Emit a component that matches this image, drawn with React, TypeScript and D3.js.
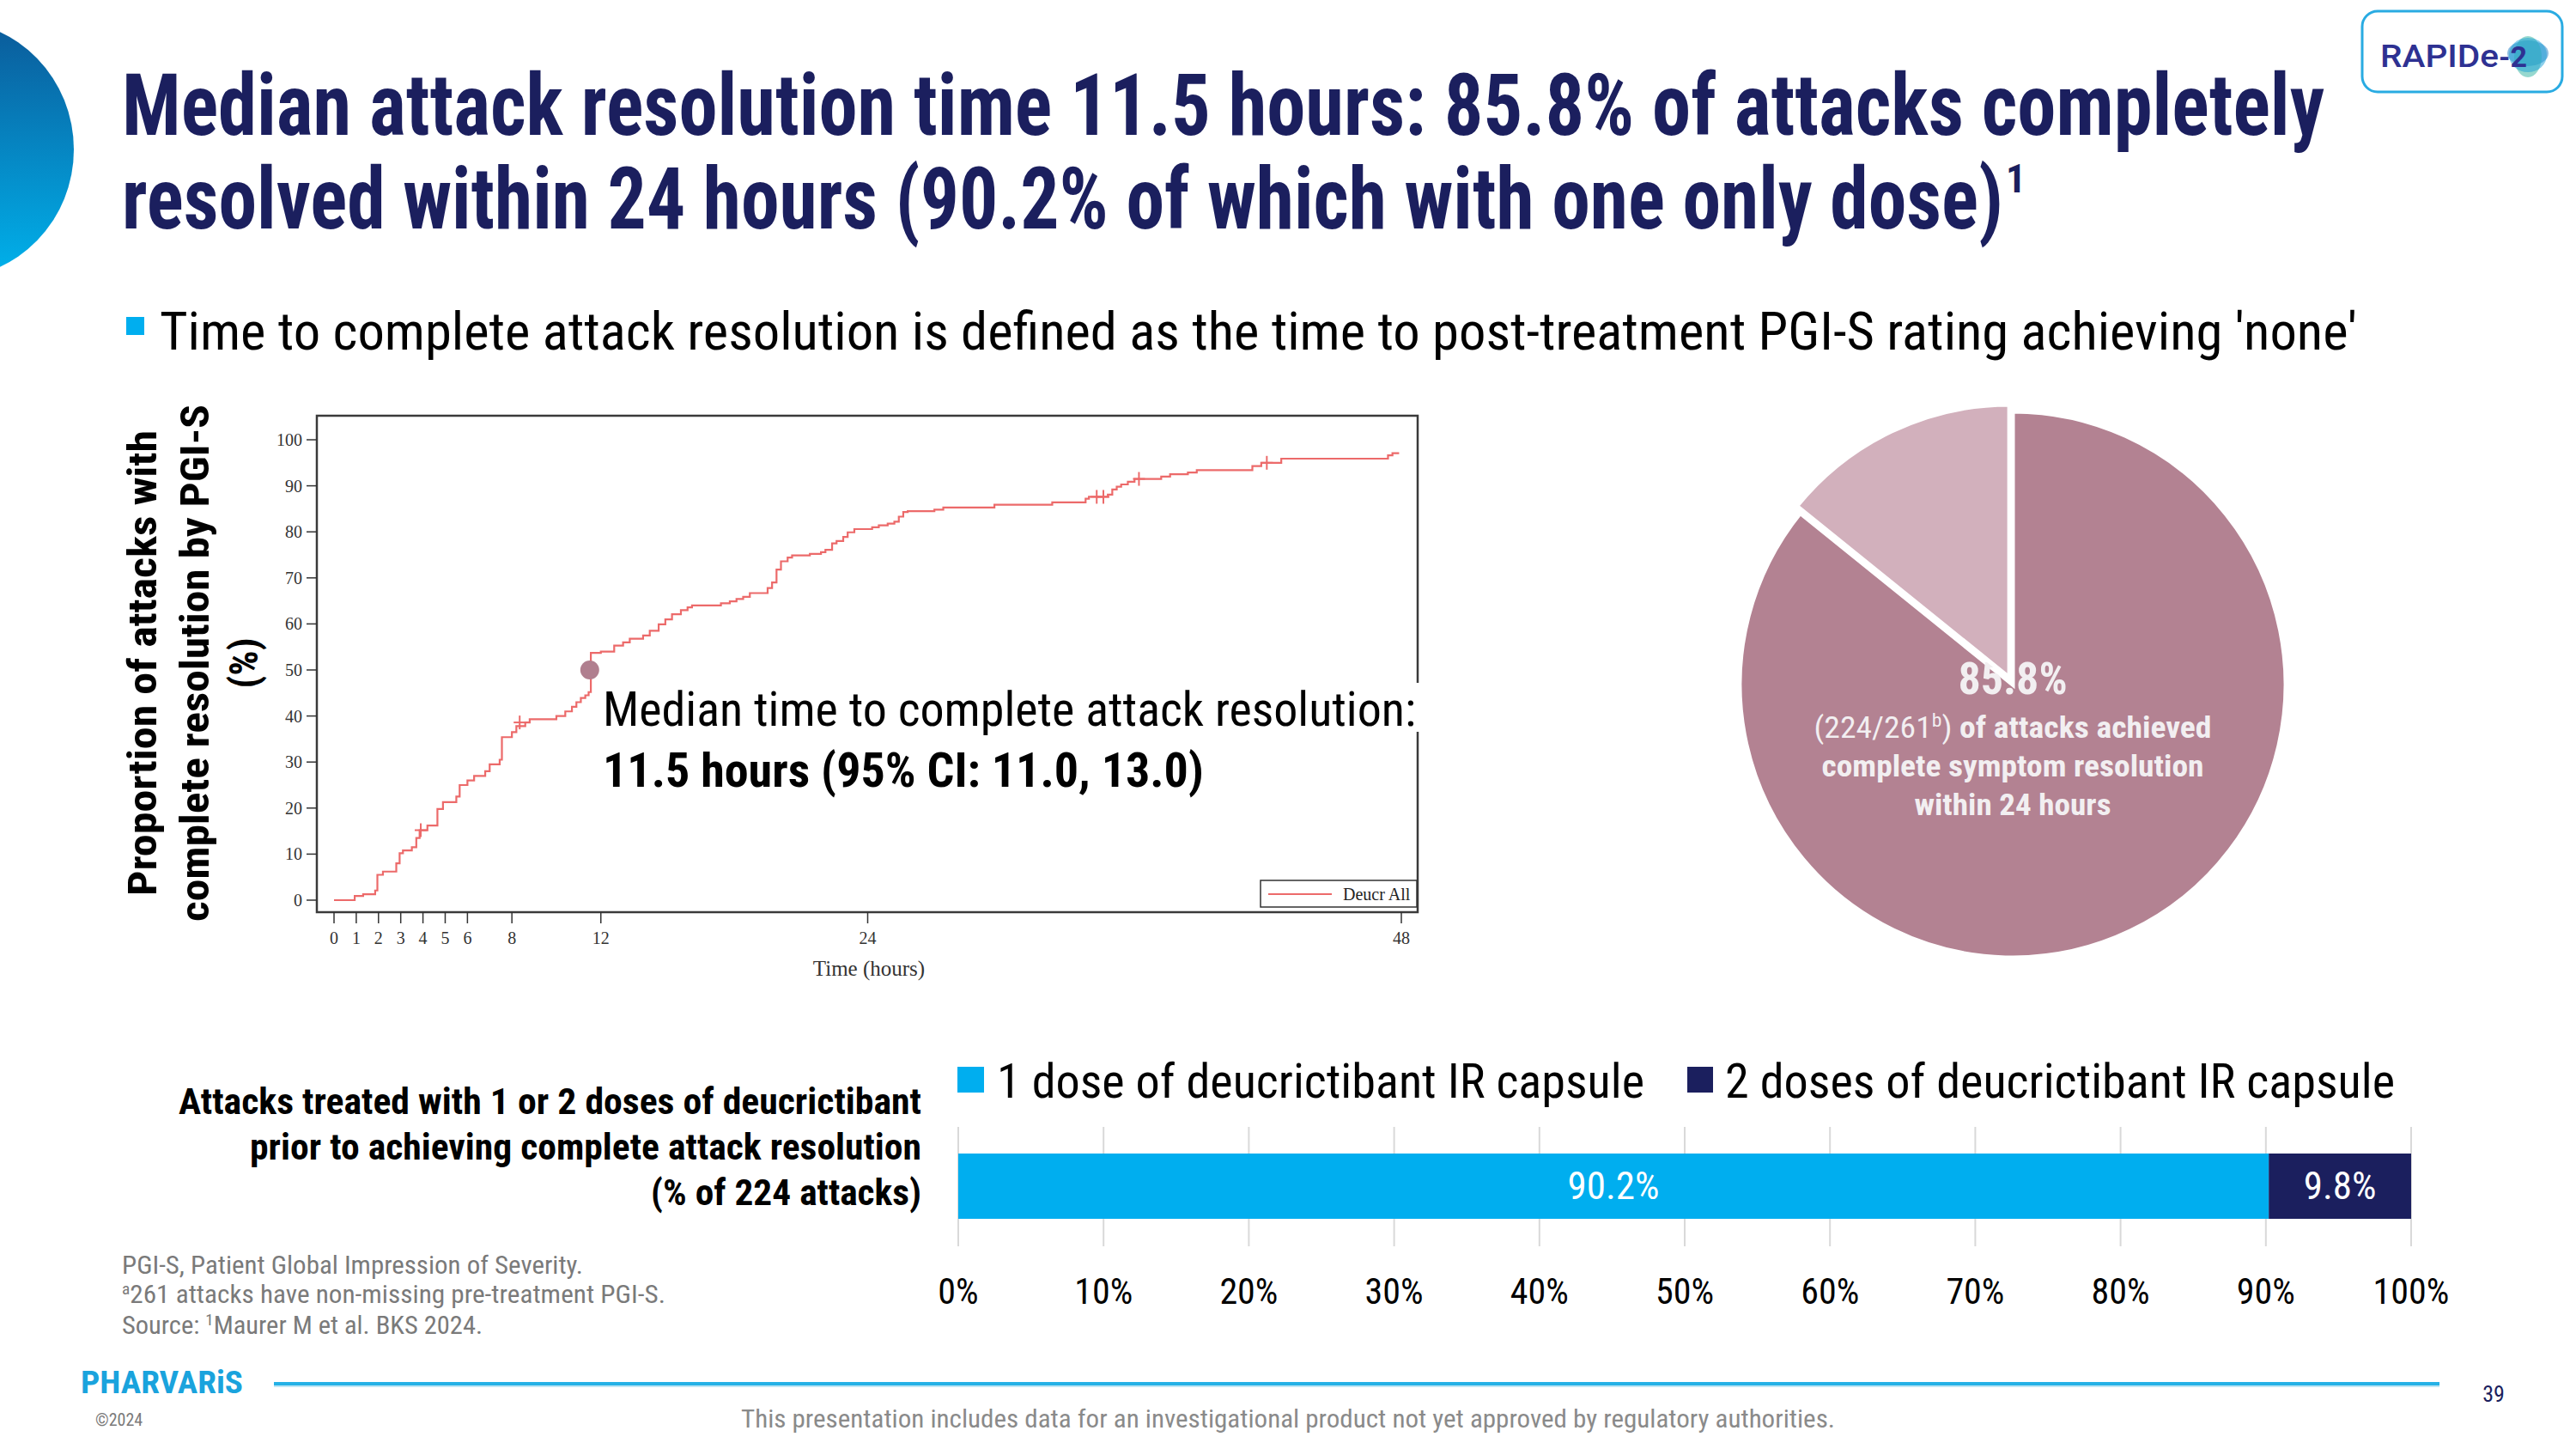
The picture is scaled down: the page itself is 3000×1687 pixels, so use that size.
import React from "react";
import * as d3 from "d3";

// Kaplan-Meier style cumulative curve (hours, % resolved)
const kmHours = [0, 0.93, 1.31, 1.85, 1.95, 2.2, 2.8, 2.95, 3.1, 3.5, 3.7, 3.85, 4.2, 4.65, 4.9, 5.5, 5.65, 6.0, 6.3, 6.8, 7.0, 7.45, 7.55, 8.0, 8.2, 8.6, 8.8, 10.0, 10.4, 10.7, 10.9, 11.1, 11.3, 11.45, 11.55, 12.0, 12.6, 13.0, 13.3, 13.9, 14.2, 14.6, 14.9, 15.2, 15.6, 15.9, 16.1, 17.4, 17.8, 18.1, 18.4, 18.7, 19.5, 19.7, 19.9, 20.1, 20.4, 20.6, 21.4, 21.9, 22.1, 22.4, 22.6, 22.9, 23.1, 23.4, 24.2, 24.5, 24.9, 25.2, 25.4, 25.6, 25.8, 27.0, 27.4, 29.7, 32.3, 33.8, 33.95, 34.8, 35.0, 35.2, 35.4, 35.7, 36.0, 37.2, 37.6, 38.4, 38.8, 41.3, 41.7, 42.6, 47.4, 47.6, 47.9];
const kmPct = [0, 0.9, 1.3, 2.1, 5.5, 6.2, 8.0, 10.2, 10.8, 11.5, 13.5, 15.2, 16.2, 19.8, 21.3, 22.5, 25.0, 26.0, 27.0, 28.0, 29.5, 30.5, 35.4, 36.5, 37.8, 38.6, 39.3, 40.0, 41.0, 42.0, 43.0, 43.9, 44.5, 45.2, 53.7, 54.0, 55.3, 56.0, 56.8, 57.5, 58.5, 59.9, 61.0, 62.1, 63.0, 63.6, 64.0, 64.5, 64.9, 65.4, 65.9, 66.7, 67.8, 69.0, 71.8, 73.6, 74.4, 74.9, 75.2, 75.6, 76.1, 77.5, 78.0, 78.9, 79.9, 80.6, 81.0, 81.4, 81.8, 82.2, 83.3, 84.3, 84.5, 84.8, 85.3, 85.9, 86.4, 87.2, 87.6, 88.1, 89.2, 89.8, 90.3, 90.9, 91.5, 92.0, 92.5, 92.9, 93.4, 94.3, 95.0, 95.9, 96.6, 97.1, 97.1];
const censorHours = [3.9, 8.35, 34.3, 34.6, 36.2, 41.95];
const censorPct = [15.2, 38.6, 87.6, 87.6, 91.5, 95.0];
const medianHours = 11.5;
const medianPct = 50;
const kmXTicks = [0, 1, 2, 3, 4, 5, 6, 8, 12, 24, 48];
const kmYTicks = [0, 10, 20, 30, 40, 50, 60, 70, 80, 90, 100];

// pie
const pieLabels = ["Resolved within 24 h", "Not resolved within 24 h"];
const pieValues = [85.8, 14.2];

// stacked bar
const doseSeries = ["1 dose of deucrictibant IR capsule", "2 doses of deucrictibant IR capsule"];
const doseValues = [90.2, 9.8];
const barTicks = [0, 10, 20, 30, 40, 50, 60, 70, 80, 90, 100];

const COND = "'Roboto Condensed','Liberation Sans Narrow','DejaVu Sans Condensed',Roboto,sans-serif";
const SERIF = "'Liberation Serif','Times New Roman',serif";
const NAVY = "#1b1f5e";
const CYAN = "#00aeef";

const App = () => {
  // KM scales
  const x = d3.scaleLinear().domain([0, 48]).range([389, 1632]);
  const y = d3.scaleLinear().domain([0, 100]).range([1048, 512]);
  const kmPts: [number, number][] = kmHours.map((h, i) => [h, kmPct[i]]);
  const kmLine: any = d3
    .line<[number, number]>()
    .x((d) => x(d[0]))
    .y((d) => y(d[1]))
    .curve(d3.curveStepAfter);

  // pie
  const pcx = 2344, pcy = 797, pr = 318;
  const arcs = d3.pie<number>().sort(null)(pieValues);
  const arcGen: any = d3.arc().innerRadius(0).outerRadius(pr);

  // bar
  const bx = d3.scaleLinear().domain([0, 100]).range([1116, 2808]);
  const stackStarts = doseValues.map((_, i) => d3.sum(doseValues.slice(0, i)));
  const barColors = [CYAN, NAVY];

  return (
    <div style={{ position: "absolute", left: 0, top: 0 }}>
      <svg width={3000} height={1687} style={{ display: "block", background: "#fff" }}>
        <defs>
          <linearGradient id="deco" x1="0" y1="0" x2="0" y2="1">
            <stop offset="0%" stopColor="#0b5a99" />
            <stop offset="100%" stopColor="#00b2ec" />
          </linearGradient>
        </defs>

        {/* decoration left */}
        <ellipse cx={-60} cy={174} rx={146} ry={150} fill="url(#deco)" />

        {/* title */}
        <text x={142} y={157} fontFamily={COND} fontWeight={700} fontSize={100} fill={NAVY} textLength={2565} lengthAdjust="spacingAndGlyphs">
          Median attack resolution time 11.5 hours: 85.8% of attacks completely
        </text>
        <text x={142} y={266} fontFamily={COND} fontWeight={700} fontSize={100} fill={NAVY}>
          <tspan textLength={2191} lengthAdjust="spacingAndGlyphs">resolved within 24 hours (90.2% of which with one only dose)</tspan>
          <tspan fontSize={46} dx={3} dy={-42}>1</tspan>
        </text>

        {/* logo */}
        <rect x={2751} y={13} width={233} height={94} rx={18} fill="#fff" stroke="#29abe2" strokeWidth={3} />
        <ellipse cx={2944} cy={62} rx={24} ry={15} fill="#2e86c8" opacity={0.55} />
        <ellipse cx={2944} cy={66} rx={16} ry={24} fill="#3fb8a8" opacity={0.55} />
        <ellipse cx={2944} cy={64} rx={22} ry={20} fill="#1aa0d8" opacity={0.5} />
        <text x={2772} y={78} fontFamily="Roboto, sans-serif" fontWeight={500} fontSize={36} fill="#2e3192">
          <tspan textLength={138} lengthAdjust="spacingAndGlyphs">RAPIDe</tspan>
          <tspan fontWeight={700} fontSize={34}>-2</tspan>
        </text>

        {/* subtitle */}
        <rect x={147} y={369} width={21} height={21} fill={CYAN} />
        <text x={186} y={407} fontFamily={COND} fontSize={62} fill="#000" textLength={2559} lengthAdjust="spacingAndGlyphs">
          Time to complete attack resolution is defined as the time to post-treatment PGI-S rating achieving 'none'
        </text>

        {/* KM y title */}
        {[
          { t: "Proportion of attacks with", bx: 182, len: 542 },
          { t: "complete resolution by PGI-S", bx: 243, len: 602 },
          { t: "(%)", bx: 300, len: 0 },
        ].map((l) => (
          <text key={l.t} transform={`translate(${l.bx},772) rotate(-90)`} textAnchor="middle" fontFamily={COND} fontWeight={700} fontSize={46} fill="#000"
            {...(l.len ? { textLength: l.len, lengthAdjust: "spacingAndGlyphs" } : {})}>
            {l.t}
          </text>
        ))}

        {/* KM frame */}
        <rect x={369} y={484} width={1282} height={578} fill="none" stroke="#3a3a3a" strokeWidth={2.5} />
        {kmYTicks.map((t) => (
          <g key={"y" + t}>
            <line x1={357} x2={369} y1={y(t)} y2={y(t)} stroke="#333" strokeWidth={1.5} />
            <text x={352} y={y(t) + 7} textAnchor="end" fontFamily={SERIF} fontSize={20} fill="#333">{t}</text>
          </g>
        ))}
        {kmXTicks.map((t) => (
          <g key={"x" + t}>
            <line x1={x(t)} x2={x(t)} y1={1062} y2={1075} stroke="#333" strokeWidth={1.5} />
            <text x={x(t)} y={1099} textAnchor="middle" fontFamily={SERIF} fontSize={20} fill="#333">{t}</text>
          </g>
        ))}
        <text x={1012} y={1136} textAnchor="middle" fontFamily={SERIF} fontSize={25} fill="#333">Time (hours)</text>

        <path d={kmLine(kmPts)} fill="none" stroke="#ec6a6a" strokeWidth={2.2} />
        {censorHours.map((h, i) => (
          <g key={"c" + i} stroke="#ec6a6a" strokeWidth={2}>
            <line x1={x(h) - 7} x2={x(h) + 7} y1={y(censorPct[i])} y2={y(censorPct[i])} />
            <line x1={x(h)} x2={x(h)} y1={y(censorPct[i]) - 8} y2={y(censorPct[i]) + 8} />
          </g>
        ))}
        <circle cx={x(medianHours)} cy={y(medianPct)} r={11} fill="#b07f8f" />

        {/* KM legend */}
        <rect x={1468} y={1025} width={182} height={31} fill="#fff" stroke="#333" strokeWidth={1.5} />
        <line x1={1477} x2={1551} y1={1041} y2={1041} stroke="#ec6a6a" strokeWidth={2} />
        <text x={1564} y={1048} fontFamily={SERIF} fontSize={20} fill="#222">Deucr All</text>

        {/* median annotation */}
        <rect x={695} y={795} width={965} height={57} fill="#fff" />
        <text x={702} y={845} fontFamily={COND} fontSize={56} fill="#000" textLength={947} lengthAdjust="spacingAndGlyphs">
          Median time to complete attack resolution:
        </text>
        <text x={702} y={916} fontFamily={COND} fontWeight={700} fontSize={56} fill="#000" textLength={700} lengthAdjust="spacingAndGlyphs">
          11.5 hours (95% CI: 11.0, 13.0)
        </text>

        {/* pie */}
        <g transform={`translate(${pcx},${pcy})`}>
          <path d={arcGen(arcs[0])} fill="#b38292" stroke="#fff" strokeWidth={5}>
            <title>{pieLabels[0]}</title>
          </path>
          <text x={0} y={11} textAnchor="middle" fontFamily={COND} fontWeight={700} fontSize={52} fill="#f2eff1">85.8%</text>
          {(() => {
            const a = arcs[1];
            const mid = (a.startAngle + a.endAngle) / 2;
            const off = 9;
            return (
              <path transform={`translate(${Math.sin(mid) * off},${-Math.cos(mid) * off})`} d={arcGen(a)} fill="#d2b0bc" stroke="#fff" strokeWidth={5}>
                <title>{pieLabels[1]}</title>
              </path>
            );
          })()}
          <text x={0} y={62} textAnchor="middle" fontFamily={COND} fontSize={35} fill="#f2eff1" textLength={463} lengthAdjust="spacingAndGlyphs">
            <tspan fontWeight={400}>(224/261</tspan>
            <tspan fontSize={22} dy={-13}>b</tspan>
            <tspan dy={13} fontWeight={400}>)</tspan>
            <tspan fontWeight={700}> of attacks achieved</tspan>
          </text>
          <text x={0} y={107} textAnchor="middle" fontFamily={COND} fontWeight={700} fontSize={35} fill="#f2eff1" textLength={445} lengthAdjust="spacingAndGlyphs">
            complete symptom resolution
          </text>
          <text x={0} y={152} textAnchor="middle" fontFamily={COND} fontWeight={700} fontSize={35} fill="#f2eff1" textLength={229} lengthAdjust="spacingAndGlyphs">
            within 24 hours
          </text>
        </g>

        {/* bar legend */}
        <rect x={1115} y={1242} width={31} height={30} fill={CYAN} />
        <text x={1161} y={1278} fontFamily={COND} fontSize={56} fill="#000" textLength={754} lengthAdjust="spacingAndGlyphs">{doseSeries[0]}</text>
        <rect x={1965} y={1242} width={30} height={30} fill={NAVY} />
        <text x={2009} y={1278} fontFamily={COND} fontSize={56} fill="#000" textLength={780} lengthAdjust="spacingAndGlyphs">{doseSeries[1]}</text>

        {/* bar left label */}
        {[
          { t: "Attacks treated with 1 or 2 doses of deucrictibant", yy: 1297, len: 865 },
          { t: "prior to achieving complete attack resolution", yy: 1350, len: 782 },
          { t: "(% of 224 attacks)", yy: 1403, len: 315 },
        ].map((l) => (
          <text key={l.t} x={1073} y={l.yy} textAnchor="end" fontFamily={COND} fontWeight={700} fontSize={43} fill="#000" textLength={l.len} lengthAdjust="spacingAndGlyphs">
            {l.t}
          </text>
        ))}

        {/* bar grid */}
        {barTicks.map((t) => (
          <g key={"b" + t}>
            <line x1={bx(t)} x2={bx(t)} y1={1312} y2={1451} stroke="#d9d9d9" strokeWidth={2} />
            <text x={bx(t)} y={1518} textAnchor="middle" fontFamily={COND} fontSize={42} fill="#000">{t}%</text>
          </g>
        ))}
        {doseValues.map((v, i) => (
          <g key={"bar" + i}>
            <rect x={bx(stackStarts[i])} y={1343} width={bx(stackStarts[i] + v) - bx(stackStarts[i])} height={76} fill={barColors[i]} />
            <text x={bx(stackStarts[i] + v / 2)} y={1396} textAnchor="middle" fontFamily={COND} fontSize={45} fill="#fff">
              {v.toFixed(1)}%
            </text>
          </g>
        ))}

        {/* footnotes */}
        <text x={142} y={1483} fontFamily={COND} fontSize={29} fill="#7a7a7a" textLength={537} lengthAdjust="spacingAndGlyphs">
          PGI-S, Patient Global Impression of Severity.
        </text>
        <text x={142} y={1517} fontFamily={COND} fontSize={29} fill="#7a7a7a" textLength={633} lengthAdjust="spacingAndGlyphs">
          <tspan fontSize={18} dy={-10}>a</tspan>
          <tspan dy={10}>261 attacks have non-missing pre-treatment PGI-S.</tspan>
        </text>
        <text x={142} y={1553} fontFamily={COND} fontSize={29} fill="#7a7a7a" textLength={420} lengthAdjust="spacingAndGlyphs">
          <tspan>Source: </tspan>
          <tspan fontSize={18} dy={-10}>1</tspan>
          <tspan dy={10}>Maurer M et al. BKS 2024.</tspan>
        </text>

        {/* footer */}
        <text x={94} y={1622} fontFamily={COND} fontWeight={700} fontSize={36} fill="#1aa3dd" textLength={189} lengthAdjust="spacingAndGlyphs">
          PHARVARiS
        </text>
        <line x1={319} x2={2841} y1={1611} y2={1611} stroke="#25b1e6" strokeWidth={4} />
        <line x1={319} x2={2841} y1={1614} y2={1614} stroke="#bfe6f5" strokeWidth={2} />
        <text x={2904} y={1632} textAnchor="middle" fontFamily={COND} fontSize={26} fill={NAVY}>39</text>
        <text x={111} y={1660} fontFamily={COND} fontSize={20} fill="#7a7a7a">©2024</text>
        <text x={1500} y={1662} textAnchor="middle" fontFamily={COND} fontSize={29} fill="#8a8a8a" textLength={1274} lengthAdjust="spacingAndGlyphs">
          This presentation includes data for an investigational product not yet approved by regulatory authorities.
        </text>
      </svg>
    </div>
  );
};

export default App;
